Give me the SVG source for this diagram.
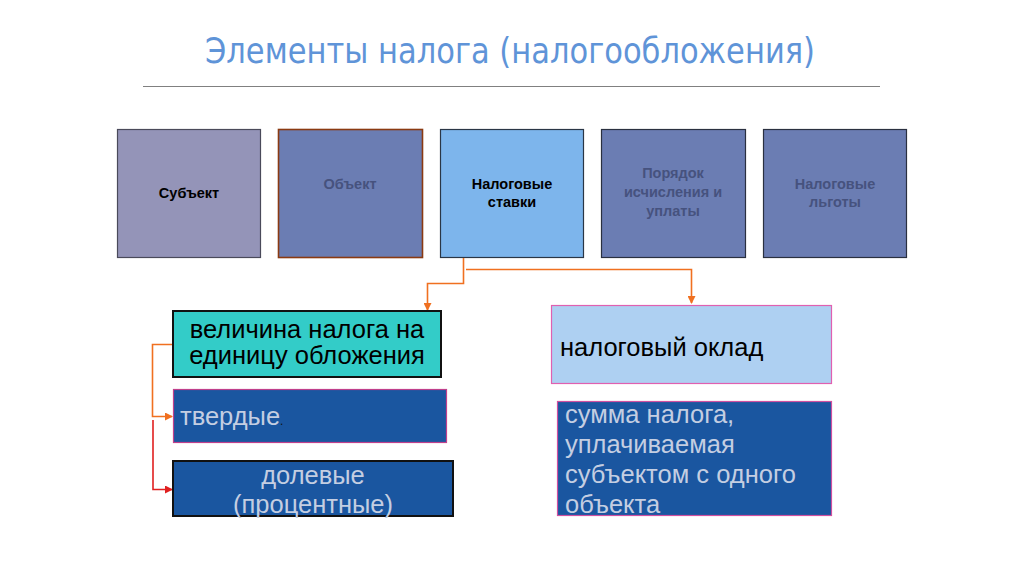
<svg xmlns="http://www.w3.org/2000/svg" width="1024" height="574" viewBox="0 0 1024 574">
<defs>
<marker id="ao" markerWidth="8" markerHeight="8" refX="7" refY="4" orient="auto" markerUnits="userSpaceOnUse"><path d="M0,0 L8,4 L0,8 z" fill="#f07020"/></marker>
<marker id="ar" markerWidth="8" markerHeight="8" refX="7" refY="4" orient="auto" markerUnits="userSpaceOnUse"><path d="M0,0 L8,4 L0,8 z" fill="#e02020"/></marker>
</defs>
<style>
.top{font-family:"Liberation Sans",Arial,sans-serif;font-size:14.5px;font-weight:bold;text-anchor:middle}
.big{font-family:"Liberation Sans",Arial,sans-serif;font-size:25.5px}
.lt{fill:#c4cee2}
.co{fill:none;stroke:#f07020;stroke-width:1.6}
</style>
<rect width="1024" height="574" fill="#ffffff"/>
<g id="title">
<text x="510" y="63" font-family="DejaVu Sans Condensed, 'Liberation Sans Narrow', sans-serif" font-size="36" fill="#5f94d8" text-anchor="middle" textLength="610" lengthAdjust="spacingAndGlyphs">Элементы налога (налогообложения)</text>
<line x1="143" y1="86.5" x2="880" y2="86.5" stroke="#808080" stroke-width="1.2"/>
</g>
<g id="n-subject">
<rect x="117.5" y="129.5" width="143" height="128" fill="#9494b8" stroke="#4a4a5a" stroke-width="1.2"/>
<text class="top" x="189" y="198" fill="#000">Субъект</text>
</g>
<g id="n-object">
<rect x="278.5" y="129.5" width="144" height="128" fill="#6b7db3" stroke="#8a3a12" stroke-width="1.6"/>
<text class="top" x="350" y="189" fill="#46527e">Объект</text>
</g>
<g id="n-rates">
<rect x="440.5" y="129.5" width="143" height="128" fill="#7db5ec" stroke="#2a3646" stroke-width="1.2"/>
<text class="top" x="512" y="189" fill="#000">Налоговые</text>
<text class="top" x="512" y="207" fill="#000">ставки</text>
</g>
<g id="n-order">
<rect x="601.5" y="129.5" width="144" height="128" fill="#6b7db3" stroke="#2a3040" stroke-width="1.2"/>
<text class="top" x="673" y="178" fill="#46527e">Порядок</text>
<text class="top" x="673" y="197" fill="#46527e">исчисления и</text>
<text class="top" x="673" y="216" fill="#46527e">уплаты</text>
</g>
<g id="n-benefits">
<rect x="763.5" y="129.5" width="143" height="128" fill="#6b7db3" stroke="#2a3040" stroke-width="1.2"/>
<text class="top" x="835" y="189" fill="#46527e">Налоговые</text>
<text class="top" x="835" y="207" fill="#46527e">льготы</text>
</g>
<g id="connectors">
<polyline class="co" points="463.5,258 463.5,283.5 427.5,283.5 427.5,310" marker-end="url(#ao)"/>
<polyline class="co" points="466,269.5 691.5,269.5 691.5,303" marker-end="url(#ao)"/>
<polyline class="co" points="173,344.5 152.5,344.5 152.5,416.5 172,416.5" marker-end="url(#ao)"/>
<polyline fill="none" stroke="#e02020" stroke-width="1.6" points="153,420 153,489.5 172,489.5" marker-end="url(#ar)"/>
</g>
<g id="n-unit">
<rect x="173" y="311" width="268" height="66" fill="#33ccc8" stroke="#111" stroke-width="2"/>
<text class="big" x="307" y="338" text-anchor="middle" fill="#000">величина налога на</text>
<text class="big" x="307" y="364" text-anchor="middle" fill="#000">единицу обложения</text>
</g>
<g id="n-fixed">
<rect x="173.5" y="389.5" width="273" height="53" fill="#1a56a0" stroke="#c0408c" stroke-width="1.2"/>
<text class="big lt" x="180" y="425">твердые<tspan fill="#111" font-size="12">.</tspan></text>
</g>
<g id="n-share">
<rect x="173" y="461" width="280" height="55" fill="#1a56a0" stroke="#111" stroke-width="2"/>
<text class="big lt" x="313" y="484" text-anchor="middle">долевые</text>
<text class="big lt" x="313" y="513" text-anchor="middle">(процентные)</text>
</g>
<g id="n-salary">
<rect x="551.5" y="305.5" width="280" height="78" fill="#aed0f2" stroke="#e060b0" stroke-width="1.2"/>
<text class="big" x="560" y="356" fill="#000">налоговый оклад</text>
</g>
<g id="n-sum">
<rect x="557.5" y="401.5" width="274" height="114" fill="#1a56a0" stroke="#d050a0" stroke-width="1.2"/>
<text class="big lt" x="565" y="423">сумма налога,</text>
<text class="big lt" x="565" y="453">уплачиваемая</text>
<text class="big lt" x="565" y="483">субъектом с одного</text>
<text class="big lt" x="565" y="513">объекта</text>
</g>
</svg>
